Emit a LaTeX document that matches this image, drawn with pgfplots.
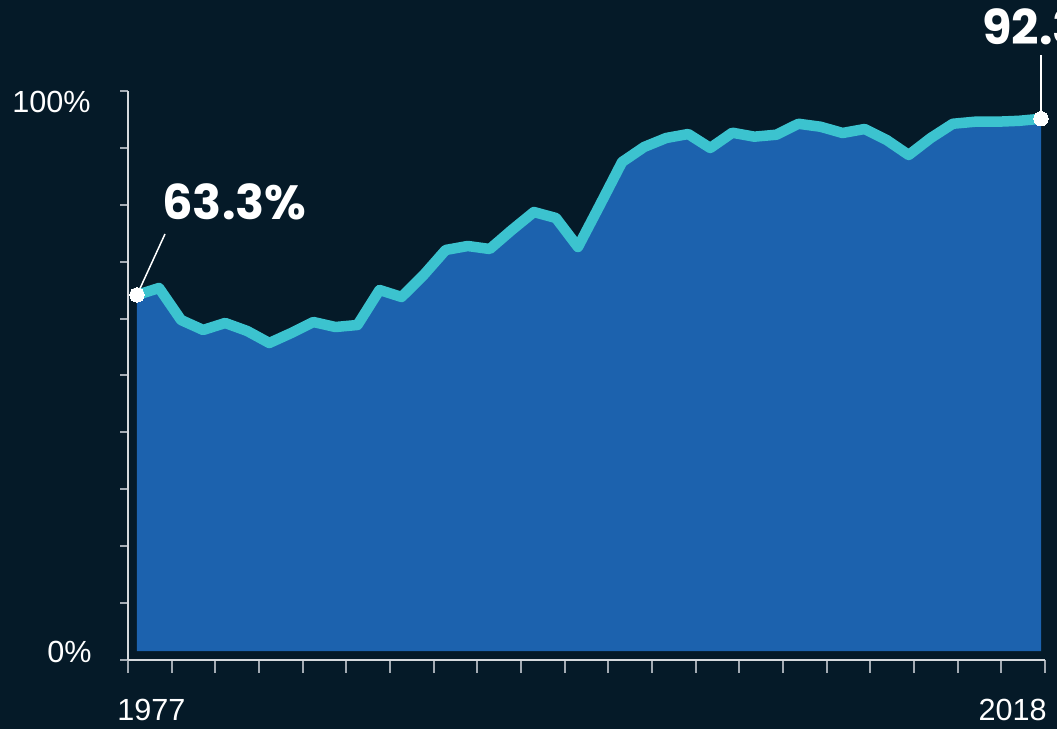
\documentclass[border=0pt]{standalone}
\usepackage{pgfplots}
\pgfplotsset{compat=1.18}
\usepackage{pgfplotstable}
\usepackage{fontspec}
\setmainfont{Liberation Sans}
\newfontfamily\annot{Poppins}
\definecolor{bg}{HTML}{051A28}
\definecolor{areablue}{HTML}{1C62AE}
\definecolor{linecyan}{HTML}{3CC3CF}
\definecolor{axisgrey}{HTML}{D5D9DD}
\definecolor{tickgrey}{HTML}{A3ABB3}
\pgfplotstableread{
year v
1977 64.15
1978 65.38
1979 59.75
1980 58.00
1981 59.23
1982 57.82
1983 55.71
1984 57.47
1985 59.40
1986 58.52
1987 58.88
1988 65.03
1989 63.80
1990 67.66
1991 72.06
1992 72.76
1993 72.23
1994 75.57
1995 78.73
1996 77.68
1997 72.58
1998 80.00
1999 87.52
2000 90.16
2001 91.74
2002 92.44
2003 89.98
2004 92.67
2005 91.97
2006 92.32
2007 94.24
2008 93.72
2009 92.62
2010 93.32
2011 91.39
2012 88.75
2013 91.74
2014 94.24
2015 94.60
2016 94.60
2017 94.76
2018 95.12
}\data
\begin{document}
\begin{tikzpicture}[x=1pt,y=1pt]
\useasboundingbox (0pt,0pt) rectangle (528.5pt,364.5pt);
\clip (0pt,0pt) rectangle (528.5pt,364.5pt);
\fill[bg] (0pt,0pt) rectangle (528.5pt,364.5pt);
\begin{axis}[
  at={(64pt,34.5pt)}, anchor=south west, scale only axis,
  width=458.5pt, height=284.5pt,
  xmin=1976.592, xmax=2018.181, ymin=0, ymax=100,
  axis x line=bottom, axis y line=left,
  axis line style={-, draw=axisgrey, line width=1pt},
  xtick={1976.592,1978.5724,...,2018.2},
  ytick={0,10,...,100},
  xticklabel=\empty, yticklabel=\empty,
  tick align=outside, major tick length=4pt,
  tick style={draw=tickgrey, line width=1pt},
  xtick style={/pgfplots/major tick length=6.5pt},
  clip=false,
]
\addplot[fill=areablue, draw=none] table[x=year,y=v]{\data}
  -- (axis cs:2018,1.58) -- (axis cs:1977,1.58) -- cycle;
\addplot[draw=linecyan, line width=5.25pt, line join=round, mark=none] table[x=year,y=v]{\data};
\draw[white, line width=0.75pt] (axis cs:1977,64.15) -- (axis cs:1978.27,74.87);
\draw[white, line width=0.75pt] (axis cs:2018,95.12) -- (axis cs:2018,106.3);
\addplot[only marks, mark=*, mark size=3.6pt, draw=white, fill=white, mark options={fill=white, draw=white, line width=0pt}]
  coordinates {(1977,64.15) (2018,95.12)};
\end{axis}
\node[anchor=base west, inner sep=0pt, text=white, font=\annot\bfseries\fontsize{24}{24}\selectfont] at (81pt,254.5pt) {63.3\%};
\node[anchor=base west, inner sep=0pt, text=white, font=\annot\bfseries\fontsize{24}{24}\selectfont] at (491pt,342pt) {92.3\%};
\node[anchor=base east, inner sep=0pt, text=white, font=\fontsize{15.3}{15.3}\selectfont] at (45.5pt,308pt) {100\%};
\node[anchor=base east, inner sep=0pt, text=white, font=\fontsize{15.3}{15.3}\selectfont] at (46pt,33pt) {0\%};
\node[anchor=base west, inner sep=0pt, text=white, font=\fontsize{15.3}{15.3}\selectfont] at (58.5pt,4pt) {1977};
\node[anchor=base east, inner sep=0pt, text=white, font=\fontsize{15.3}{15.3}\selectfont] at (523.5pt,4pt) {2018};
\end{tikzpicture}
\end{document}
